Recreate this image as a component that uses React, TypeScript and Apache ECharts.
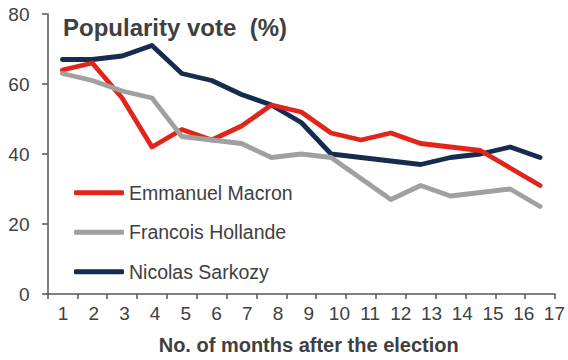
import React, { useEffect, useRef } from "react";
import * as echarts from "echarts";

const months = ["1", "2", "3", "4", "5", "6", "7", "8", "9", "10", "11", "12", "13", "14", "15", "16", "17"];
const macron = [64, 66, 56, 42, 47, 44, 48, 54, 52, 46, 44, 46, 43, 42, 41, 36, 31];
const hollande = [63, 61, 58, 56, 45, 44, 43, 39, 40, 39, 33, 27, 31, 28, 29, 30, 25];
const sarkozy = [67, 67, 68, 71, 63, 61, 57, 54, 49, 40, 39, 38, 37, 39, 40, 42, 39];
const yTicks = [0, 20, 40, 60, 80];

const FONT = "'Liberation Sans', Arial, sans-serif";
const TXT = "#404040";
const AX = "#555555";

export default function App() {
  const ref = useRef<HTMLDivElement>(null);
  useEffect(() => {
    if (!ref.current) return;
    const chart = echarts.init(ref.current, undefined, { renderer: "svg" });
    const lineSeries = (name: string, data: number[], color: string, z: number) => ({
      name,
      type: "line",
      data,
      xAxisIndex: 0,
      yAxisIndex: 0,
      showSymbol: false,
      symbol: "none",
      z,
      lineStyle: { color, width: 4.8, cap: "round", join: "round" },
      itemStyle: { color },
    });
    chart.setOption({
      animation: false,
      textStyle: { fontFamily: FONT },
      grid: [
        { left: 47.5, right: 13, top: 14, bottom: 66 },
        { left: 63, right: 13, top: 14, bottom: 66 },
      ],
      graphic: [
        {
          type: "text",
          x: 63,
          y: 27.5,
          style: {
            text: "Popularity vote  (%)",
            font: `bold 24px ${FONT}`,
            fill: TXT,
            verticalAlign: "middle",
          },
        },
      ],
      legend: {
        orient: "vertical",
        left: 69,
        top: 177.7,
        padding: 5,
        itemWidth: 50,
        itemHeight: 5,
        itemGap: 19.5,
        icon: "roundRect",
        data: ["Emmanuel Macron", "Francois Hollande", "Nicolas Sarkozy"],
        textStyle: { fontSize: 19.5, color: TXT, fontFamily: FONT, lineHeight: 20 },
      },
      xAxis: [
        {
          type: "category",
          gridIndex: 0,
          data: months,
          boundaryGap: true,
          axisLine: { lineStyle: { color: AX, width: 1.5 } },
          axisTick: { show: true, length: 5, lineStyle: { color: AX, width: 1.5 } },
          axisLabel: { show: false },
        },
        {
          type: "category",
          gridIndex: 1,
          data: months,
          boundaryGap: false,
          axisLine: { show: false },
          axisTick: { show: false },
          axisLabel: { interval: 0, fontSize: 19, color: TXT, fontFamily: FONT, margin: 15 },
          name: "No. of months after the election",
          nameLocation: "middle",
          nameGap: 46,
          nameTextStyle: { fontSize: 20, fontWeight: "bold", color: TXT, fontFamily: FONT },
        },
      ],
      yAxis: [
        {
          type: "value",
          gridIndex: 0,
          min: yTicks[0],
          max: yTicks[yTicks.length - 1],
          interval: 20,
          splitLine: { show: false },
          axisLine: { show: true, lineStyle: { color: AX, width: 1.5 } },
          axisTick: { show: true, length: 5.5, lineStyle: { color: AX, width: 1.5 } },
          axisLabel: { fontSize: 19, color: TXT, fontFamily: FONT, margin: 18 },
        },
        {
          type: "value",
          gridIndex: 1,
          min: 0,
          max: 1,
          show: false,
        },
      ],
      series: [
        lineSeries("Nicolas Sarkozy", sarkozy, "#152b4f", 2),
        lineSeries("Emmanuel Macron", macron, "#e1251b", 3),
        lineSeries("Francois Hollande", hollande, "#a0a0a0", 4),
      ],
    });
    return () => chart.dispose();
  }, []);
  return (
    <div
      ref={ref}
      style={{ position: "absolute", left: 0, top: 0, width: 568, height: 360, background: "#fff" }}
    />
  );
}
